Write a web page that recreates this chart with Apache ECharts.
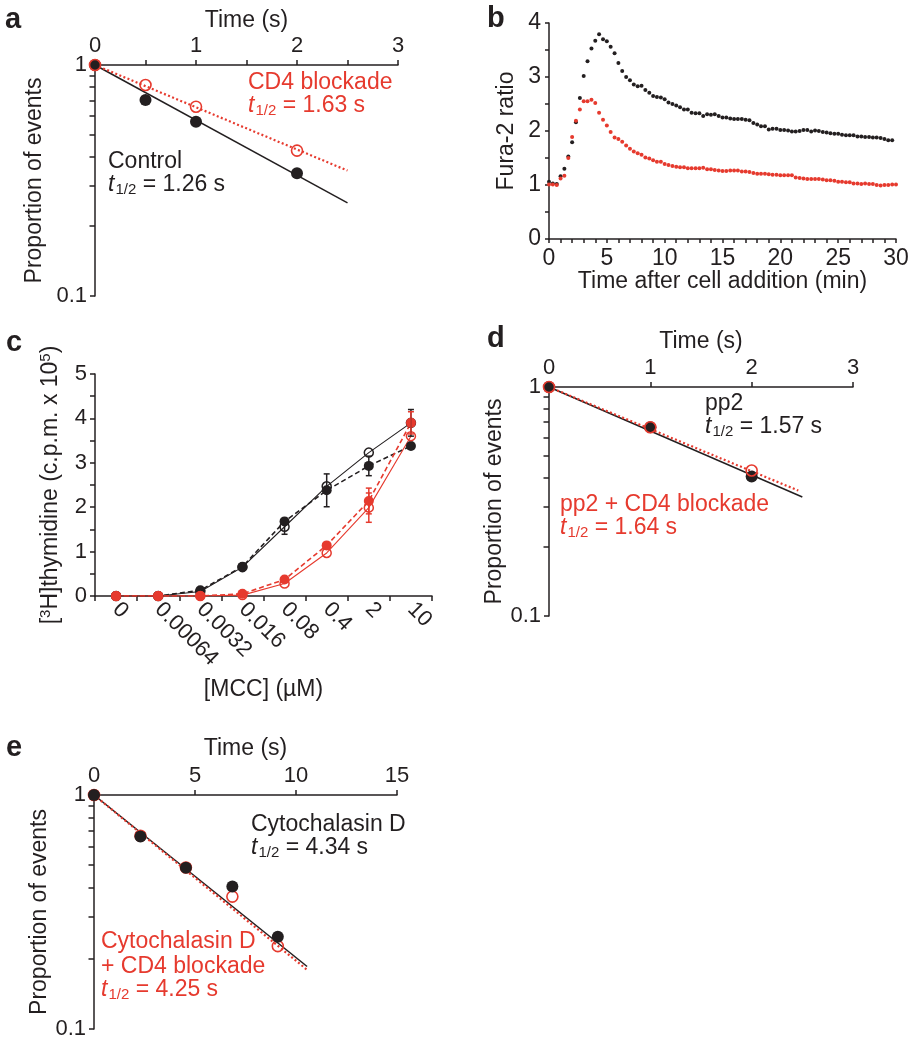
<!DOCTYPE html>
<html>
<head>
<meta charset="UTF-8">
<title>Figure panels a-e</title>
<script src="https://cdnjs.cloudflare.com/ajax/libs/echarts/6.0.0/echarts.min.js"></script>
<style>
  body { margin: 0; background: #fff; }
  #chart { width: 918px; height: 1050px; }
</style>
</head>
<body>
<div id="chart"></div>
<script>
// ---- panel a : decay, control vs CD4 blockade ----
const aTimes = [0, 0.5, 1, 2];
const aControl = [1, 0.706, 0.568, 0.340];
const aBlockade = [1, 0.819, 0.660, 0.426];
const aControlFit = [[0, 1], [2.5, 0.253]];
const aBlockadeFit = [[0, 1], [2.5, 0.349]];

// ---- panel b : Fura-2 ratio, one sample every 20 s ----
const furaMinutes = [0, 0.33, 0.67, 1, 1.33, 1.67, 2, 2.33, 2.67, 3, 3.33, 3.67, 4, 4.33, 4.67, 5, 5.33, 5.67, 6, 6.33, 6.67, 7, 7.33, 7.67, 8, 8.33, 8.67, 9, 9.33, 9.67,
  10, 10.33, 10.67, 11, 11.33, 11.67, 12, 12.33, 12.67, 13, 13.33, 13.67, 14, 14.33, 14.67, 15, 15.33, 15.67, 16, 16.33, 16.67, 17, 17.33, 17.67, 18, 18.33, 18.67, 19, 19.33, 19.67,
  20, 20.33, 20.67, 21, 21.33, 21.67, 22, 22.33, 22.67, 23, 23.33, 23.67, 24, 24.33, 24.67, 25, 25.33, 25.67, 26, 26.33, 26.67, 27, 27.33, 27.67, 28, 28.33, 28.67, 29, 29.33, 29.67, 30];
const furaBlack = [1.06, 1.03, 1.02, 1.16, 1.30, 1.53, 1.79, 2.16, 2.61, 3.02, 3.29, 3.53, 3.67, 3.79, 3.70, 3.66, 3.56, 3.44, 3.26, 3.11,
  3.00, 2.94, 2.86, 2.83, 2.84, 2.76, 2.71, 2.65, 2.63, 2.62, 2.59, 2.53, 2.50, 2.47, 2.44, 2.40, 2.40, 2.34, 2.33, 2.33,
  2.28, 2.31, 2.30, 2.31, 2.28, 2.25, 2.25, 2.23, 2.22, 2.22, 2.22, 2.21, 2.20, 2.15, 2.12, 2.09, 2.09, 2.03, 2.04, 2.04,
  2.02, 2.02, 2.01, 1.99, 1.99, 2.00, 2.02, 2.02, 1.99, 2.01, 2.00, 1.98, 1.97, 1.96, 1.95, 1.95, 1.93, 1.92, 1.92, 1.92,
  1.90, 1.90, 1.89, 1.89, 1.88, 1.88, 1.87, 1.85, 1.83, 1.83];
const furaRed = [1.01, 1.01, 1.00, 1.12, 1.17, 1.50, 1.89, 2.19, 2.40, 2.55, 2.55, 2.58, 2.52, 2.34, 2.21, 2.10, 1.98, 1.88, 1.85, 1.80,
  1.73, 1.67, 1.62, 1.59, 1.56, 1.51, 1.49, 1.46, 1.43, 1.43, 1.39, 1.37, 1.35, 1.34, 1.33, 1.33, 1.31, 1.31, 1.31, 1.31,
  1.32, 1.29, 1.29, 1.28, 1.27, 1.26, 1.26, 1.27, 1.27, 1.27, 1.25, 1.25, 1.24, 1.22, 1.21, 1.21, 1.21, 1.20, 1.19, 1.19,
  1.18, 1.18, 1.18, 1.18, 1.14, 1.13, 1.12, 1.11, 1.11, 1.11, 1.11, 1.10, 1.09, 1.09, 1.08, 1.06, 1.06, 1.05, 1.05, 1.03,
  1.03, 1.02, 1.03, 1.02, 1.02, 1.00, 0.99, 1.00, 1.00, 1.01, 1.01];

// ---- panel c : thymidine incorporation ----
const mccLabels = ['0', '0.00064', '0.0032', '0.016', '0.08', '0.4', '2', '10'];
const blackOpen = [0, 0, 0.10, 0.65, 1.56, 2.47, 3.23, 3.90];
const blackFilled = [0, 0, 0.13, 0.66, 1.68, 2.38, 2.93, 3.38];
const redOpen = [0, 0, 0, 0.02, 0.28, 0.97, 1.99, 3.60];
const redFilled = [0, 0, 0, 0.05, 0.37, 1.14, 2.14, 3.90];
const blackOpenErr = [0, 0, 0, 0, 0.17, 0, 0, 0.30];
const blackFilledErr = [0, 0, 0, 0, 0, 0.37, 0.22, 0];
const redOpenErr = [0, 0, 0, 0, 0, 0, 0.33, 0];
const redFilledErr = [0, 0, 0, 0, 0, 0, 0.29, 0.25];

// ---- panel d : pp2 ----
const dTimes = [0, 1, 2];
const dPp2 = [1, 0.667, 0.407];
const dPp2Blockade = [1, 0.667, 0.432];
const dPp2Fit = [[0, 1], [2.5, 0.331]];
const dPp2BlockadeFit = [[0, 1], [2.46, 0.353]];

// ---- panel e : cytochalasin D ----
const eTimes = [0, 2.3, 4.55, 6.85, 9.1];
const eCyto = [1, 0.664, 0.489, 0.406, 0.248];
const eCytoBlockade = [1, 0.67, 0.49, 0.368, 0.226];
const eCytoFit = [[0, 1], [10.55, 0.185]];
const eCytoBlockadeFit = [[0, 1], [10.55, 0.179]];

const logMinorTicks = [0.2, 0.3, 0.4, 0.5, 0.6, 0.7, 0.8, 0.9];

const INK = '#231f20';
const RED = '#e63a2e';
const FONT = '"Liberation Sans", Arial, Helvetica, sans-serif';

const chart = echarts.init(document.getElementById('chart'));

function lineStyle(color, width) {
  return { color: color, width: width || 1.5 };
}

function everyLabel(step) {
  return v => (Math.abs(v / step - Math.round(v / step)) < 1e-6 ? String(Math.round(v * 100) / 100) : '');
}

function baseAxis(gridIndex) {
  return {
    gridIndex: gridIndex,
    nameLocation: 'middle',
    nameMoveOverlap: false,
    nameTextStyle: { fontSize: 23, color: INK, fontFamily: FONT },
    axisLine: { show: true, onZero: false, lineStyle: lineStyle(INK) },
    axisTick: { show: true, length: 5, lineStyle: lineStyle(INK) },
    axisLabel: { fontSize: 22, color: INK, fontFamily: FONT, margin: 8 },
    splitLine: { show: false }
  };
}

function timeAxis(gridIndex, max, interval, labelStep, nameGap) {
  const ax = baseAxis(gridIndex);
  return Object.assign(ax, {
    type: 'value', position: 'top', min: 0, max: max, interval: interval,
    name: 'Time (s)', nameGap: nameGap,
    axisLabel: Object.assign(ax.axisLabel, { formatter: everyLabel(labelStep), showMinLabel: true, showMaxLabel: true })
  });
}

function logAxis(gridIndex, nameGap) {
  const ax = baseAxis(gridIndex);
  return Object.assign(ax, {
    type: 'log', logBase: 10, min: 0.1, max: 1,
    name: 'Proportion of events', nameGap: nameGap, nameRotate: 90,
    axisLabel: Object.assign(ax.axisLabel, { formatter: v => String(+Number(v).toPrecision(3)) })
  });
}

// log-scale minor ticks (0.2 ... 0.9) drawn as short strokes left of the y axis
function minorLogTicks(gridIndex) {
  return {
    type: 'custom', xAxisIndex: gridIndex, yAxisIndex: gridIndex,
    data: logMinorTicks.map(v => [0, v]), silent: true, clip: false, z: 10,
    renderItem: function (params, api) {
      const p = api.coord([api.value(0), api.value(1)]);
      const y = Math.round(p[1]);
      return {
        type: 'rect',
        shape: { x: p[0] - 5.5, y: y - 0.75, width: 5.5, height: 1.5 },
        style: { fill: INK }
      };
    }
  };
}

function fitLine(gridIndex, points, color, dotted) {
  return {
    type: 'line', xAxisIndex: gridIndex, yAxisIndex: gridIndex,
    data: points, showSymbol: false, silent: true, z: 2,
    lineStyle: dotted ? { color: color, width: 2.2, type: [2, 2.4] } : { color: color, width: 1.5 }
  };
}

function points(gridIndex, xs, ys, color, open, size, z) {
  return {
    type: 'scatter', xAxisIndex: gridIndex, yAxisIndex: gridIndex,
    data: xs.map((x, i) => [x, ys[i]]),
    symbol: 'circle', symbolSize: size, z: z || 3, clip: false,
    itemStyle: open
      ? { color: 'rgba(255,255,255,0)', borderColor: color, borderWidth: 1.6, opacity: 1 }
      : { color: color, opacity: 1 }
  };
}

function doseLine(values, color, open, dashed) {
  return {
    type: 'line', xAxisIndex: 2, yAxisIndex: 2,
    data: values, symbol: 'circle', symbolSize: open ? 9 : 10, showAllSymbol: true, z: 3,
    lineStyle: dashed ? { color: color, width: 1.6, type: [5, 3] } : { color: color, width: 1.1 },
    itemStyle: open ? { color: 'rgba(255,255,255,0)', borderColor: color, borderWidth: 1.5 } : { color: color }
  };
}

function errorBars(values, errs, color) {
  const data = [];
  values.forEach((v, i) => { if (errs[i] > 0) data.push([i, v, errs[i]]); });
  return {
    type: 'custom', xAxisIndex: 2, yAxisIndex: 2, data: data, z: 4, clip: false,
    renderItem: function (params, api) {
      const i = api.value(0), v = api.value(1), e = api.value(2);
      const top = api.coord([i, v + e]);
      const bot = api.coord([i, v - e]);
      const st = { stroke: color, lineWidth: 1.5 };
      return {
        type: 'group', children: [
          { type: 'line', shape: { x1: top[0], y1: top[1], x2: bot[0], y2: bot[1] }, style: st },
          { type: 'line', shape: { x1: top[0] - 3, y1: top[1], x2: top[0] + 3, y2: top[1] }, style: st },
          { type: 'line', shape: { x1: bot[0] - 3, y1: bot[1], x2: bot[0] + 3, y2: bot[1] }, style: st }
        ]
      };
    }
  };
}

function richFor(color) {
  return {
    it: { fontStyle: 'italic', fontSize: 23, color: color, fontFamily: FONT },
    sub: { fontSize: 15, color: color, fontFamily: FONT, padding: [10, 0, 0, 1] },
    n: { fontSize: 23, color: color, fontFamily: FONT }
  };
}

function note(text, left, top, color) {
  return {
    text: text, left: left, top: top, padding: 0,
    textStyle: { fontSize: 23, fontWeight: 'normal', color: color, fontFamily: FONT, rich: richFor(color) }
  };
}

function halfLife(value, left, top, color) {
  return note('{it|t}{sub|1/2}{n| = ' + value + ' s}', left, top, color);
}

function letter(ch, left, top) {
  return {
    text: ch, left: left, top: top, padding: 0,
    textStyle: { fontSize: 29, fontWeight: 'bold', color: INK, fontFamily: FONT }
  };
}

// panel b axes
const bX = Object.assign(baseAxis(1), {
  type: 'value', position: 'bottom', min: 0, max: 30, interval: 1,
  name: 'Time after cell addition (min)', nameGap: 31,
  axisLabel: Object.assign(baseAxis(1).axisLabel, { fontSize: 23, formatter: everyLabel(5) })
});
bX.axisTick.length = 4;
const bY = Object.assign(baseAxis(1), {
  type: 'value', min: 0, max: 4, interval: 0.5,
  name: 'Fura-2 ratio', nameGap: 31, nameRotate: 90,
  axisLabel: Object.assign(baseAxis(1).axisLabel, { fontSize: 23, formatter: everyLabel(1) })
});
bY.axisTick.length = 4;

// panel c axes
const cX = Object.assign(baseAxis(2), {
  type: 'category', data: mccLabels, boundaryGap: true, position: 'bottom',
  name: '[MCC] (µM)', nameGap: 82,
  axisTick: { show: true, length: 5, alignWithLabel: false, interval: 0, lineStyle: lineStyle(INK) },
  axisLabel: Object.assign(baseAxis(2).axisLabel, { rotate: -45, interval: 0, margin: 10 })
});
const cY = Object.assign(baseAxis(2), {
  type: 'value', min: 0, max: 5, interval: 0.5,
  name: '[{sup|3}H]thymidine (c.p.m. x 10{sup|5})', nameGap: 32, nameRotate: 90,
  nameTextStyle: { fontSize: 23, color: INK, fontFamily: FONT,
    rich: { sup: { fontSize: 15, color: INK, fontFamily: FONT, padding: [0, 0, 10, 0] } } },
  axisLabel: Object.assign(baseAxis(2).axisLabel, { formatter: everyLabel(1) })
});

const option = {
  animation: false,
  backgroundColor: '#ffffff',
  textStyle: { fontFamily: FONT },
  title: [
    letter('a', 5, 5), letter('b', 487, 4), letter('c', 6, 328), letter('d', 487, 324), letter('e', 6, 733),
    note('CD4 blockade', 248, 71, RED),
    halfLife('1.63', 248, 93, RED),
    note('Control', 108, 150, INK),
    halfLife('1.26', 108, 172, INK),
    note('pp2', 705, 392, INK),
    halfLife('1.57', 705, 414, INK),
    note('pp2 + CD4 blockade', 560, 493, RED),
    halfLife('1.64', 560, 515, RED),
    note('Cytochalasin D', 251, 813, INK),
    halfLife('4.34', 251, 835, INK),
    note('Cytochalasin D', 101, 930, RED),
    note('+ CD4 blockade', 101, 955, RED),
    halfLife('4.25', 101, 977, RED)
  ],
  grid: [
    { left: 95, top: 65, width: 303, height: 231, outerBoundsMode: 'none' },
    { left: 549, top: 23, width: 347, height: 216, outerBoundsMode: 'none' },
    { left: 95, top: 374, width: 337, height: 222, outerBoundsMode: 'none' },
    { left: 549, top: 387, width: 304, height: 229, outerBoundsMode: 'none' },
    { left: 94, top: 795, width: 303, height: 234, outerBoundsMode: 'none' }
  ],
  xAxis: [
    timeAxis(0, 3, 0.5, 1, 33),
    bX,
    cX,
    timeAxis(3, 3, 1, 1, 34),
    timeAxis(4, 15, 5, 5, 35)
  ],
  yAxis: [
    logAxis(0, 49),
    bY,
    cY,
    logAxis(3, 43),
    logAxis(4, 43)
  ],
  series: [
    // a
    minorLogTicks(0),
    fitLine(0, aControlFit, INK, false),
    fitLine(0, aBlockadeFit, RED, true),
    points(0, aTimes, aControl, INK, false, 12, 3),
    points(0, aTimes, aBlockade, RED, true, 11, 4),
    // b
    {
      type: 'scatter', xAxisIndex: 1, yAxisIndex: 1, symbol: 'circle', symbolSize: 4, z: 3,
      data: furaBlack.map((v, i) => [furaMinutes[i], v]), itemStyle: { color: INK, opacity: 1 }
    },
    {
      type: 'scatter', xAxisIndex: 1, yAxisIndex: 1, symbol: 'circle', symbolSize: 4, z: 4,
      data: furaRed.map((v, i) => [furaMinutes[i], v]), itemStyle: { color: RED, opacity: 1 }
    },
    // c
    doseLine(blackOpen, INK, true, false),
    doseLine(blackFilled, INK, false, true),
    errorBars(blackOpen, blackOpenErr, INK),
    errorBars(blackFilled, blackFilledErr, INK),
    doseLine(redOpen, RED, true, false),
    doseLine(redFilled, RED, false, true),
    errorBars(redOpen, redOpenErr, RED),
    errorBars(redFilled, redFilledErr, RED),
    // d
    minorLogTicks(3),
    fitLine(3, dPp2Fit, INK, false),
    fitLine(3, dPp2BlockadeFit, RED, true),
    points(3, dTimes, dPp2, INK, false, 12, 3),
    points(3, dTimes, dPp2Blockade, RED, true, 11, 4),
    // e
    minorLogTicks(4),
    fitLine(4, eCytoFit, INK, false),
    fitLine(4, eCytoBlockadeFit, RED, true),
    points(4, eTimes, eCytoBlockade, RED, true, 11, 3),
    points(4, eTimes, eCyto, INK, false, 12, 4)
  ]
};

chart.setOption(option);
window.addEventListener('resize', () => chart.resize());
</script>
</body>
</html>
